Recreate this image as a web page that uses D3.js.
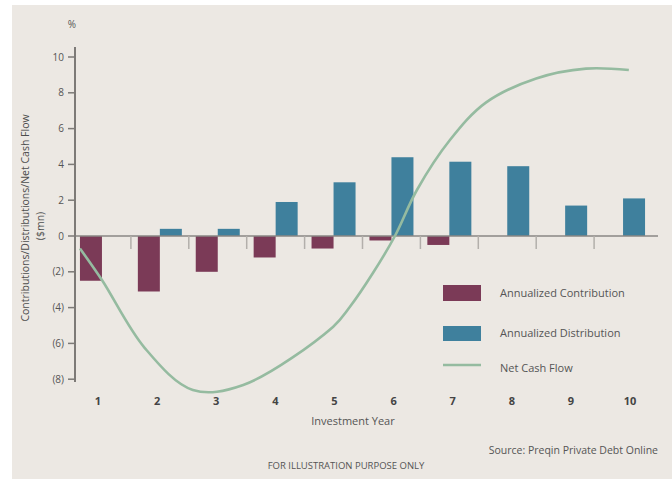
<!DOCTYPE html>
<html><head><meta charset="utf-8">
<script src="https://cdn.jsdelivr.net/npm/d3@7"></script>
<style>
html,body{margin:0;padding:0;background:#fff;}
svg{display:block;}
text{font-family:"Open Sans","Noto Sans",sans-serif;}
</style></head>
<body>
<svg id="chart" width="672" height="479"></svg>
<script>
// ---- data ----
const years = [1,2,3,4,5,6,7,8,9,10];
const contribution = [-2.5,-3.1,-2.0,-1.2,-0.7,-0.25,-0.5,0,0,0];
const distribution = [0,0.4,0.4,1.9,3.0,4.4,4.15,3.9,1.7,2.1];
const netYear  = [0.62,1.0,1.74,2.57,3.44,4.99,5.28,5.68,6.06,6.44,7.01,7.63,8.5,9.36,10.1];
const netValue = [-0.7,-2.46,-6.26,-8.6,-8.32,-5.08,-3.97,-2.07,0,2.57,5.36,7.45,8.8,9.35,9.27];
const yTicks = [10,8,6,4,2,0,-2,-4,-6,-8];
const yTickLabels = ["10","8","6","4","2","0","(2)","(4)","(6)","(8)"];
const legendLabels = ["Annualized Contribution","Annualized Distribution","Net Cash Flow"];

const colContrib = "#7b3a57", colDist = "#3f809d", colLine = "#95bba0";
const svg = d3.select("#chart");

svg.append("rect").attr("x",12).attr("y",5).attr("width",660).attr("height",474).attr("fill","#ece8e3");

const y = d3.scaleLinear().domain([-8,10]).range([379.2,57]);
const x = d3.scaleBand().domain(years).range([73,652]).paddingInner(0.24).paddingOuter(0.12);
const xSub = d3.scaleBand().domain(["c","d"]).range([0,x.bandwidth()]);
const xLine = d3.scaleLinear().domain([1,10]).range([x(1)+x.bandwidth()/2, x(10)+x.bandwidth()/2]);
const xLab = d3.scalePoint().domain(years).range([98,630]);

// bars
svg.append("g").selectAll("rect").data(years).join("rect")
  .attr("x",(d)=>x(d)+xSub("c")).attr("width",xSub.bandwidth())
  .attr("y",(d,i)=>y(Math.max(0,contribution[i])))
  .attr("height",(d,i)=>Math.abs(y(contribution[i])-y(0)))
  .attr("fill",colContrib);
svg.append("g").selectAll("rect").data(years).join("rect")
  .attr("x",(d)=>x(d)+xSub("d")).attr("width",xSub.bandwidth())
  .attr("y",(d,i)=>y(Math.max(0,distribution[i])))
  .attr("height",(d,i)=>Math.abs(y(distribution[i])-y(0)))
  .attr("fill",colDist);

// x axis line & ticks between groups
svg.append("line").attr("x1",75).attr("x2",658).attr("y1",y(0)).attr("y2",y(0))
  .attr("stroke","#8a8784").attr("stroke-width",1.5);
const step = x.step();
svg.append("g").selectAll("line").data(years.slice(0,9)).join("line")
  .attr("x1",d=>x(d)+x.bandwidth()+(step-x.bandwidth())/2)
  .attr("x2",d=>x(d)+x.bandwidth()+(step-x.bandwidth())/2)
  .attr("y1",y(0)).attr("y2",y(0)+13)
  .attr("stroke","#b3afab").attr("stroke-width",1.5);

// net cash flow line
const line = d3.line().x((d,i)=>xLine(netYear[i])).y(d=>y(d)).curve(d3.curveCatmullRom.alpha(0.5));
svg.append("path").datum(netValue).attr("d",line)
  .attr("fill","none").attr("stroke",colLine).attr("stroke-width",2.6);

// y axis
svg.append("line").attr("x1",75).attr("x2",75).attr("y1",47).attr("y2",382)
  .attr("stroke","#7d7a77").attr("stroke-width",2);
const yg = svg.append("g");
yg.selectAll("line").data(yTicks).join("line")
  .attr("x1",68).attr("x2",75).attr("y1",d=>y(d)).attr("y2",d=>y(d))
  .attr("stroke","#7d7a77").attr("stroke-width",1.5);
yg.selectAll("text").data(yTicks).join("text")
  .attr("x",64).attr("y",d=>y(d)).attr("dy","0.35em").attr("text-anchor","end")
  .attr("font-size",10).attr("fill","#555").text((d,i)=>yTickLabels[i]);
svg.append("text").attr("x",72).attr("y",28).attr("text-anchor","middle")
  .attr("font-size",10).attr("fill","#555").text("%");

// y title
svg.append("text").attr("transform","translate(25,218) rotate(-90)")
  .attr("text-anchor","middle").attr("dy","0.35em").attr("font-size",10.5).attr("fill","#4d4d4d")
  .text("Contributions/Distributions/Net Cash Flow");
svg.append("text").attr("transform","translate(40,226) rotate(-90)")
  .attr("text-anchor","middle").attr("dy","0.35em").attr("font-size",10.5).attr("fill","#4d4d4d").text("($mn)");

// x labels
svg.append("g").selectAll("text").data(years).join("text")
  .attr("x",d=>xLab(d)).attr("y",401).attr("dy","0.35em").attr("text-anchor","middle")
  .attr("font-size",11).attr("font-weight","bold").attr("fill","#444").text(d=>d);
svg.append("text").attr("x",353).attr("y",421).attr("dy","0.35em").attr("text-anchor","middle")
  .attr("font-size",11).attr("fill","#555").text("Investment Year");

// legend
const lg = svg.append("g");
const ly = [293,333,368];
lg.append("rect").attr("x",443).attr("y",ly[0]-8).attr("width",38).attr("height",16).attr("fill",colContrib);
lg.append("rect").attr("x",443).attr("y",ly[1]-7).attr("width",38).attr("height",15).attr("fill",colDist);
lg.append("line").attr("x1",443).attr("x2",481).attr("y1",ly[2]-3).attr("y2",ly[2]-3)
  .attr("stroke",colLine).attr("stroke-width",2.5);
lg.selectAll("text").data(legendLabels).join("text")
  .attr("x",500).attr("y",(d,i)=>ly[i]).attr("dy","0.35em")
  .attr("font-size",11).attr("fill","#555").text(d=>d);

// footnotes
svg.append("text").attr("x",658).attr("y",450).attr("dy","0.35em").attr("text-anchor","end")
  .attr("font-size",10.5).attr("fill","#555").text("Source: Preqin Private Debt Online");
svg.append("text").attr("x",346).attr("y",466).attr("dy","0.35em").attr("text-anchor","middle")
  .attr("font-size",9.5).attr("fill","#555").text("FOR ILLUSTRATION PURPOSE ONLY");
</script>
</body></html>
